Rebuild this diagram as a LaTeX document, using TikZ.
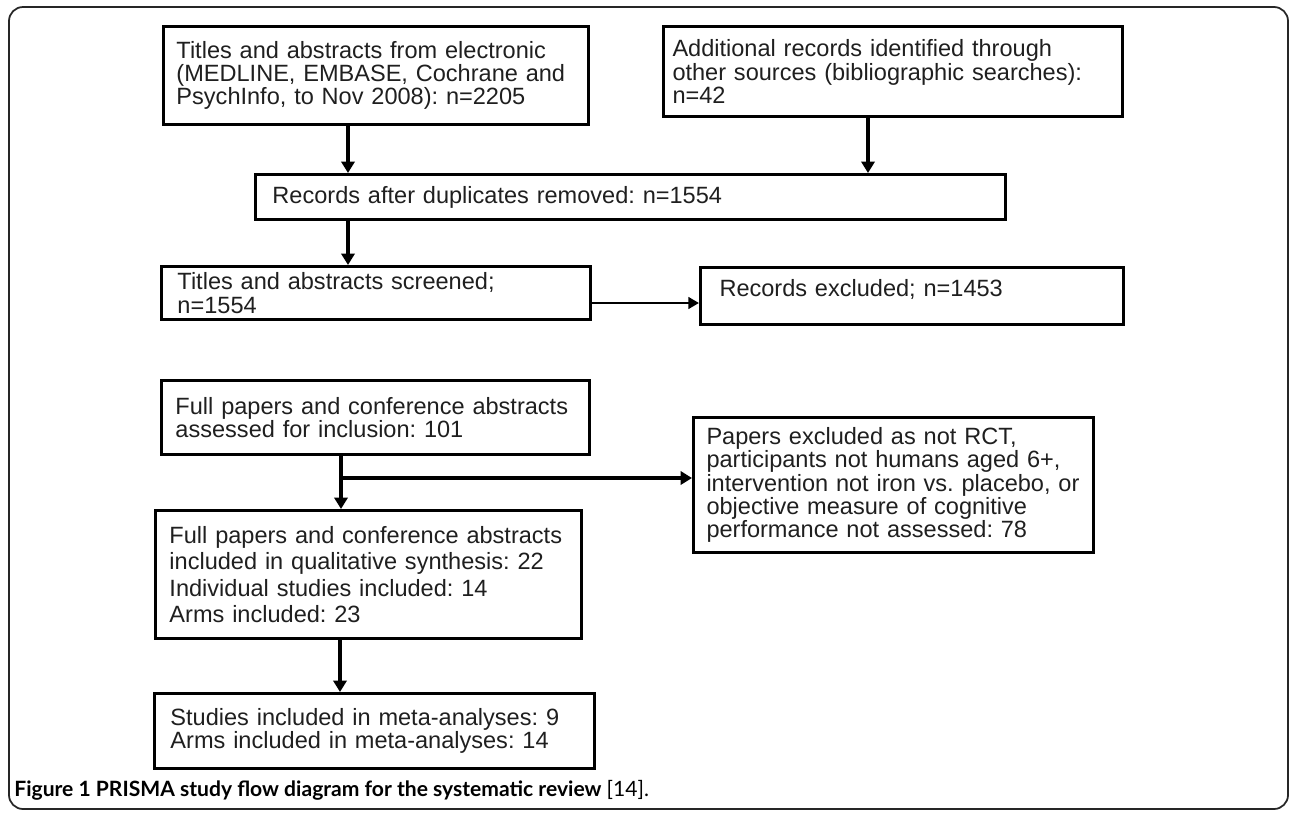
\documentclass[tikz,border=0pt]{standalone}
\usepackage{fontspec}
\setmainfont{Liberation Sans}
\newfontfamily\capfont{Lato}
\frenchspacing
\usetikzlibrary{positioning,arrows.meta}

\begin{document}
\begin{tikzpicture}[x=0.02cm,y=-0.02cm,
  box/.style={draw, line width=1.7pt, anchor=north west, align=left,
    inner xsep=0.28cm, inner ysep=0pt, text=black!88,
    font=\fontsize{13.4pt}{13.3pt}\selectfont},
  arr/.style={line width=2.2pt, -{Triangle[length=6.5pt,width=7.5pt]}},
  arrthin/.style={line width=1.5pt, -{Triangle[length=6pt,width=6.5pt]}}]
\useasboundingbox (0,0) rectangle (1290,812);
\draw[black!85, line width=1pt, rounded corners=8pt] (9,7) rectangle (1288,809);
% boxes
\node[box, inner xsep=0.26cm, text width=7.98cm, minimum height=1.96cm] (A) at (162,25)
  {Titles and abstracts from electronic\\(MEDLINE, EMBASE, Cochrane and\\PsychInfo, to Nov 2008): n=2205};
\node[box, inner xsep=0.18cm, text width=8.82cm, minimum height=1.8cm] (B) at (662,25)
  {Additional records identified through\\other sources (bibliographic searches):\\n=42};
\node[box, inner xsep=0.34cm, text width=14.32cm, minimum height=0.9cm] (C) at (254,173)
  {Records after duplicates removed: n=1554};
\node[box, inner xsep=0.32cm, text width=7.94cm, minimum height=1.06cm] (D) at (160,265)
  {Titles and abstracts screened;\\n=1554};
\node[box, inner xsep=0.38cm, text width=7.7cm, minimum height=1.14cm, text depth=9pt] (E) at (699,266)
  {Records excluded; n=1453};
\node[box, text width=8cm, minimum height=1.48cm] (F) at (160,379)
  {Full papers and conference abstracts\\assessed for inclusion: 101};
\node[box, inner xsep=0.26cm, text width=7.48cm, minimum height=2.7cm] (G) at (692,416)
  {Papers excluded as not RCT,\\participants not humans aged 6+,\\intervention not iron vs. placebo, or\\objective measure of cognitive\\performance not assessed: 78};
\node[box, text width=7.96cm, minimum height=2.56cm, font=\fontsize{13.4pt}{15pt}\selectfont] (H) at (154,509)
  {Full papers and conference abstracts\\included in qualitative synthesis: 22\\Individual studies included: 14\\Arms included: 23};
\node[box, inner xsep=0.32cm, text width=8.16cm, minimum height=1.5cm] (I) at (153,692)
  {Studies included in meta-analyses: 9\\Arms included in meta-analyses: 14};
% arrows
\coordinate (xa) at (348,0);
\coordinate (xb) at (868,0);
\coordinate (xf) at (341,0);
\coordinate (xh) at (340,0);
\coordinate (yd) at (0,303);
\coordinate (split) at (341,478);
\draw[arr] (A.south -| xa) -- (C.north -| xa);
\draw[arr] (B.south -| xb) -- (C.north -| xb);
\draw[arr] (C.south -| xa) -- (D.north -| xa);
\draw[arrthin] (D.east |- yd) -- (E.west |- yd);
\draw[arr] (F.south -| xf) -- (H.north -| xf);
\draw[arr] (split) -- (split -| G.west);
\draw[arr] (H.south -| xh) -- (I.north -| xh);
% caption
\node[anchor=base west, inner sep=0pt, font=\capfont\fontsize{12pt}{14pt}\selectfont] (cap) at (14,796)
  {\textbf{Figure 1 PRISMA study flow diagram for the systematic review} [14].};
\end{tikzpicture}
\end{document}
